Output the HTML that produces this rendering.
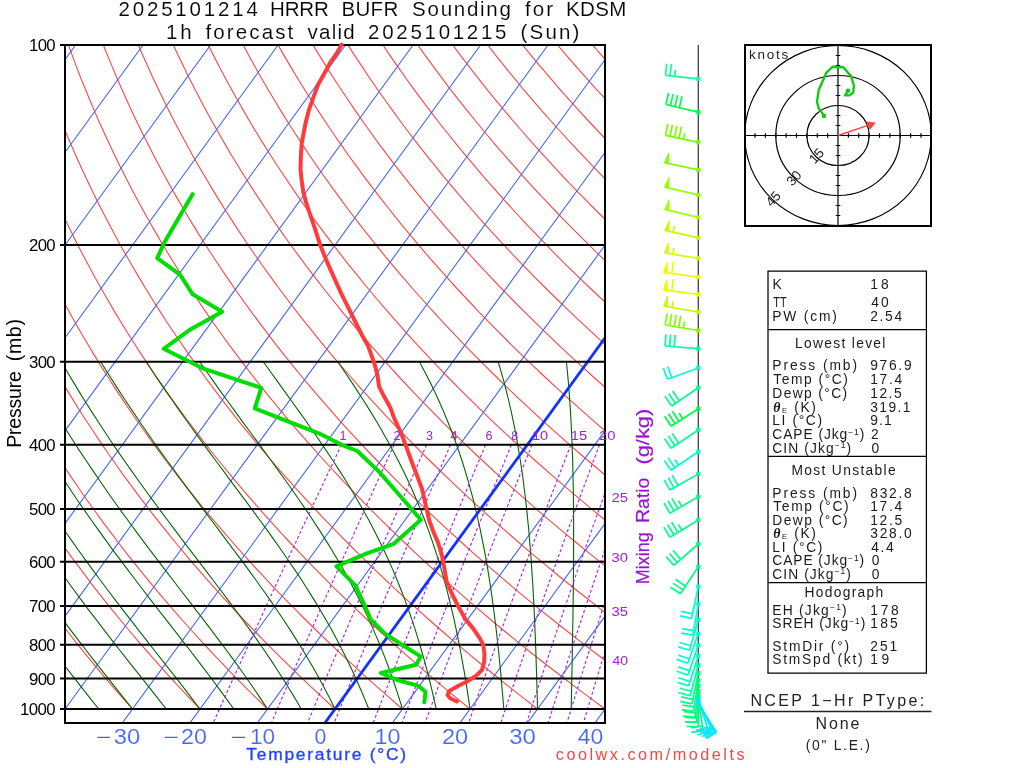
<!DOCTYPE html>
<html><head><meta charset="utf-8"><title>Sounding</title>
<style>html,body{margin:0;padding:0;background:#fff;width:1024px;height:768px;overflow:hidden}
svg text{font-family:"Liberation Sans",sans-serif}</style></head>
<body>
<svg width="1024" height="768" viewBox="0 0 1024 768" style="position:absolute;left:0;top:0;will-change:transform">
<defs><clipPath id="pc"><rect x="65" y="45" width="540" height="678"/></clipPath></defs>
<g clip-path="url(#pc)" fill="none">
<path stroke="#ff4444" stroke-width="1.1" d="M65,709 L55.9,697.9 L46.9,686.9 L38.2,675.8 L29.6,664.7 L21.2,653.7 L13,642.6 L5,631.5 L-2.9,620.5 L-10.6,609.4 L-18.1,598.3 L-25.4,587.3 L-32.6,576.2 L-39.6,565.1 L-46.4,554.1 L-53.1,543 L-59.6,531.9 L-66,520.9 L-72.2,509.8 L-78.2,498.7 L-84.1,487.7 L-89.9,476.6 L-95.5,465.5 L-100.9,454.5 L-106.2,443.4 L-111.3,432.3 L-116.4,421.3 L-121.2,410.2 L-125.9,399.1 L-130.5,388.1 L-135,377 L-139.3,365.9 L-143.4,354.9 L-147.5,343.8 L-151.4,332.7 L-155.2,321.7 L-158.8,310.6 L-162.3,299.5 L-165.7,288.5 L-169,277.4 L-172.1,266.3 L-175.2,255.3 L-178.1,244.2 L-180.8,233.1 L-183.5,222.1 L-186,211 L-188.5,199.9 L-190.8,188.9 L-193,177.8 L-195.1,166.7 L-197.1,155.7 L-198.9,144.6 L-200.7,133.5 L-202.4,122.5 L-203.9,111.4 L-205.4,100.3 L-206.7,89.3 L-207.9,78.2 L-209.1,67.1 L-210.1,56.1 L-211,45 M132.5,709 L122.6,697.9 L113,686.9 L103.5,675.8 L94.2,664.7 L85.1,653.7 L76.2,642.6 L67.5,631.5 L59,620.5 L50.6,609.4 L42.4,598.3 L34.4,587.3 L26.6,576.2 L18.9,565.1 L11.5,554.1 L4.1,543 L-3,531.9 L-10,520.9 L-16.8,509.8 L-23.4,498.7 L-29.9,487.7 L-36.3,476.6 L-42.4,465.5 L-48.5,454.5 L-54.3,443.4 L-60,432.3 L-65.6,421.3 L-71,410.2 L-76.3,399.1 L-81.4,388.1 L-86.4,377 L-91.2,365.9 L-95.9,354.9 L-100.5,343.8 L-104.9,332.7 L-109.2,321.7 L-113.3,310.6 L-117.4,299.5 L-121.2,288.5 L-125,277.4 L-128.6,266.3 L-132.1,255.3 L-135.5,244.2 L-138.7,233.1 L-141.9,222.1 L-144.9,211 L-147.7,199.9 L-150.5,188.9 L-153.1,177.8 L-155.7,166.7 L-158.1,155.7 L-160.4,144.6 L-162.6,133.5 L-164.6,122.5 L-166.6,111.4 L-168.4,100.3 L-170.2,89.3 L-171.8,78.2 L-173.4,67.1 L-174.8,56.1 L-176.1,45 M200,709 L189.4,697.9 L179,686.9 L168.8,675.8 L158.8,664.7 L149,653.7 L139.4,642.6 L130,631.5 L120.8,620.5 L111.7,609.4 L102.9,598.3 L94.2,587.3 L85.8,576.2 L77.5,565.1 L69.3,554.1 L61.4,543 L53.6,531.9 L46,520.9 L38.6,509.8 L31.4,498.7 L24.3,487.7 L17.3,476.6 L10.6,465.5 L4,454.5 L-2.5,443.4 L-8.7,432.3 L-14.9,421.3 L-20.8,410.2 L-26.7,399.1 L-32.3,388.1 L-37.8,377 L-43.2,365.9 L-48.4,354.9 L-53.5,343.8 L-58.4,332.7 L-63.2,321.7 L-67.9,310.6 L-72.4,299.5 L-76.8,288.5 L-81,277.4 L-85.1,266.3 L-89.1,255.3 L-92.9,244.2 L-96.6,233.1 L-100.2,222.1 L-103.7,211 L-107,199.9 L-110.2,188.9 L-113.3,177.8 L-116.2,166.7 L-119.1,155.7 L-121.8,144.6 L-124.4,133.5 L-126.9,122.5 L-129.3,111.4 L-131.5,100.3 L-133.7,89.3 L-135.7,78.2 L-137.6,67.1 L-139.5,56.1 L-141.2,45 M267.5,709 L256.2,697.9 L245,686.9 L234.1,675.8 L223.4,664.7 L212.9,653.7 L202.6,642.6 L192.5,631.5 L182.6,620.5 L172.9,609.4 L163.4,598.3 L154.1,587.3 L144.9,576.2 L136,565.1 L127.2,554.1 L118.7,543 L110.3,531.9 L102,520.9 L94,509.8 L86.1,498.7 L78.5,487.7 L70.9,476.6 L63.6,465.5 L56.4,454.5 L49.4,443.4 L42.6,432.3 L35.9,421.3 L29.4,410.2 L23,399.1 L16.8,388.1 L10.7,377 L4.8,365.9 L-0.9,354.9 L-6.5,343.8 L-12,332.7 L-17.2,321.7 L-22.4,310.6 L-27.4,299.5 L-32.3,288.5 L-37,277.4 L-41.6,266.3 L-46,255.3 L-50.3,244.2 L-54.5,233.1 L-58.6,222.1 L-62.5,211 L-66.3,199.9 L-69.9,188.9 L-73.4,177.8 L-76.8,166.7 L-80.1,155.7 L-83.2,144.6 L-86.3,133.5 L-89.2,122.5 L-92,111.4 L-94.6,100.3 L-97.2,89.3 L-99.6,78.2 L-101.9,67.1 L-104.1,56.1 L-106.2,45 M335,709 L322.9,697.9 L311.1,686.9 L299.4,675.8 L288,664.7 L276.8,653.7 L265.8,642.6 L255,631.5 L244.4,620.5 L234,609.4 L223.9,598.3 L213.9,587.3 L204.1,576.2 L194.5,565.1 L185.1,554.1 L175.9,543 L166.9,531.9 L158.1,520.9 L149.4,509.8 L140.9,498.7 L132.7,487.7 L124.5,476.6 L116.6,465.5 L108.9,454.5 L101.3,443.4 L93.9,432.3 L86.6,421.3 L79.5,410.2 L72.6,399.1 L65.9,388.1 L59.3,377 L52.9,365.9 L46.6,354.9 L40.5,343.8 L34.5,332.7 L28.7,321.7 L23.1,310.6 L17.6,299.5 L12.2,288.5 L7,277.4 L1.9,266.3 L-3,255.3 L-7.8,244.2 L-12.4,233.1 L-16.9,222.1 L-21.3,211 L-25.5,199.9 L-29.6,188.9 L-33.6,177.8 L-37.4,166.7 L-41.1,155.7 L-44.7,144.6 L-48.1,133.5 L-51.4,122.5 L-54.6,111.4 L-57.7,100.3 L-60.7,89.3 L-63.5,78.2 L-66.2,67.1 L-68.8,56.1 L-71.3,45 M402.5,709 L389.7,697.9 L377.1,686.9 L364.7,675.8 L352.6,664.7 L340.7,653.7 L329,642.6 L317.5,631.5 L306.3,620.5 L295.2,609.4 L284.3,598.3 L273.7,587.3 L263.3,576.2 L253,565.1 L243,554.1 L233.2,543 L223.5,531.9 L214.1,520.9 L204.8,509.8 L195.7,498.7 L186.9,487.7 L178.2,476.6 L169.6,465.5 L161.3,454.5 L153.1,443.4 L145.2,432.3 L137.4,421.3 L129.7,410.2 L122.3,399.1 L115,388.1 L107.9,377 L100.9,365.9 L94.1,354.9 L87.5,343.8 L81,332.7 L74.7,321.7 L68.5,310.6 L62.5,299.5 L56.7,288.5 L51,277.4 L45.4,266.3 L40,255.3 L34.8,244.2 L29.7,233.1 L24.7,222.1 L19.9,211 L15.2,199.9 L10.7,188.9 L6.3,177.8 L2,166.7 L-2.1,155.7 L-6.1,144.6 L-10,133.5 L-13.7,122.5 L-17.3,111.4 L-20.8,100.3 L-24.2,89.3 L-27.4,78.2 L-30.5,67.1 L-33.5,56.1 L-36.4,45 M470,709 L456.5,697.9 L443.1,686.9 L430.1,675.8 L417.2,664.7 L404.6,653.7 L392.2,642.6 L380,631.5 L368.1,620.5 L356.3,609.4 L344.8,598.3 L333.5,587.3 L322.4,576.2 L311.6,565.1 L300.9,554.1 L290.4,543 L280.1,531.9 L270.1,520.9 L260.2,509.8 L250.5,498.7 L241,487.7 L231.8,476.6 L222.7,465.5 L213.7,454.5 L205,443.4 L196.5,432.3 L188.1,421.3 L179.9,410.2 L171.9,399.1 L164.1,388.1 L156.4,377 L148.9,365.9 L141.6,354.9 L134.5,343.8 L127.5,332.7 L120.7,321.7 L114,310.6 L107.5,299.5 L101.2,288.5 L95,277.4 L89,266.3 L83.1,255.3 L77.4,244.2 L71.8,233.1 L66.4,222.1 L61.1,211 L56,199.9 L51,188.9 L46.1,177.8 L41.4,166.7 L36.9,155.7 L32.5,144.6 L28.2,133.5 L24,122.5 L20,111.4 L16.1,100.3 L12.3,89.3 L8.7,78.2 L5.2,67.1 L1.8,56.1 L-1.4,45 M537.5,709 L523.2,697.9 L509.2,686.9 L495.4,675.8 L481.8,664.7 L468.5,653.7 L455.4,642.6 L442.5,631.5 L429.9,620.5 L417.5,609.4 L405.3,598.3 L393.4,587.3 L381.6,576.2 L370.1,565.1 L358.8,554.1 L347.7,543 L336.8,531.9 L326.1,520.9 L315.6,509.8 L305.3,498.7 L295.2,487.7 L285.4,476.6 L275.7,465.5 L266.2,454.5 L256.9,443.4 L247.8,432.3 L238.8,421.3 L230.1,410.2 L221.6,399.1 L213.2,388.1 L205,377 L197,365.9 L189.1,354.9 L181.5,343.8 L174,332.7 L166.6,321.7 L159.5,310.6 L152.5,299.5 L145.6,288.5 L139,277.4 L132.5,266.3 L126.1,255.3 L119.9,244.2 L113.9,233.1 L108,222.1 L102.3,211 L96.7,199.9 L91.3,188.9 L86,177.8 L80.9,166.7 L75.9,155.7 L71,144.6 L66.3,133.5 L61.7,122.5 L57.3,111.4 L53,100.3 L48.9,89.3 L44.8,78.2 L40.9,67.1 L37.2,56.1 L33.5,45 M605,709 L590,697.9 L575.2,686.9 L560.7,675.8 L546.4,664.7 L532.4,653.7 L518.6,642.6 L505,631.5 L491.7,620.5 L478.7,609.4 L465.8,598.3 L453.2,587.3 L440.8,576.2 L428.6,565.1 L416.7,554.1 L404.9,543 L393.4,531.9 L382.1,520.9 L371,509.8 L360.1,498.7 L349.4,487.7 L339,476.6 L328.7,465.5 L318.6,454.5 L308.8,443.4 L299.1,432.3 L289.6,421.3 L280.3,410.2 L271.2,399.1 L262.3,388.1 L253.5,377 L245,365.9 L236.6,354.9 L228.4,343.8 L220.4,332.7 L212.6,321.7 L204.9,310.6 L197.4,299.5 L190.1,288.5 L183,277.4 L176,266.3 L169.2,255.3 L162.5,244.2 L156,233.1 L149.7,222.1 L143.5,211 L137.5,199.9 L131.6,188.9 L125.9,177.8 L120.3,166.7 L114.9,155.7 L109.6,144.6 L104.5,133.5 L99.5,122.5 L94.6,111.4 L89.9,100.3 L85.4,89.3 L80.9,78.2 L76.6,67.1 L72.5,56.1 L68.5,45 M672.5,709 L656.7,697.9 L641.2,686.9 L626,675.8 L611,664.7 L596.3,653.7 L581.8,642.6 L567.6,631.5 L553.6,620.5 L539.8,609.4 L526.3,598.3 L513,587.3 L500,576.2 L487.1,565.1 L474.5,554.1 L462.2,543 L450,531.9 L438.1,520.9 L426.4,509.8 L414.9,498.7 L403.6,487.7 L392.6,476.6 L381.7,465.5 L371.1,454.5 L360.6,443.4 L350.4,432.3 L340.3,421.3 L330.5,410.2 L320.8,399.1 L311.4,388.1 L302.1,377 L293,365.9 L284.1,354.9 L275.4,343.8 L266.9,332.7 L258.6,321.7 L250.4,310.6 L242.4,299.5 L234.6,288.5 L227,277.4 L219.5,266.3 L212.2,255.3 L205.1,244.2 L198.1,233.1 L191.3,222.1 L184.7,211 L178.2,199.9 L171.9,188.9 L165.7,177.8 L159.7,166.7 L153.9,155.7 L148.2,144.6 L142.6,133.5 L137.2,122.5 L131.9,111.4 L126.8,100.3 L121.9,89.3 L117,78.2 L112.4,67.1 L107.8,56.1 L103.4,45 M740,709 L723.5,697.9 L707.3,686.9 L691.3,675.8 L675.6,664.7 L660.2,653.7 L645,642.6 L630.1,631.5 L615.4,620.5 L601,609.4 L586.8,598.3 L572.8,587.3 L559.1,576.2 L545.7,565.1 L532.4,554.1 L519.4,543 L506.7,531.9 L494.1,520.9 L481.8,509.8 L469.7,498.7 L457.8,487.7 L446.2,476.6 L434.7,465.5 L423.5,454.5 L412.5,443.4 L401.7,432.3 L391.1,421.3 L380.7,410.2 L370.5,399.1 L360.5,388.1 L350.7,377 L341.1,365.9 L331.6,354.9 L322.4,343.8 L313.4,332.7 L304.5,321.7 L295.9,310.6 L287.4,299.5 L279.1,288.5 L271,277.4 L263,266.3 L255.2,255.3 L247.6,244.2 L240.2,233.1 L233,222.1 L225.9,211 L218.9,199.9 L212.2,188.9 L205.6,177.8 L199.1,166.7 L192.8,155.7 L186.7,144.6 L180.7,133.5 L174.9,122.5 L169.3,111.4 L163.7,100.3 L158.4,89.3 L153.1,78.2 L148.1,67.1 L143.1,56.1 L138.3,45 M807.5,709 L790.3,697.9 L773.3,686.9 L756.6,675.8 L740.2,664.7 L724.1,653.7 L708.2,642.6 L692.6,631.5 L677.2,620.5 L662.1,609.4 L647.3,598.3 L632.6,587.3 L618.3,576.2 L604.2,565.1 L590.3,554.1 L576.7,543 L563.3,531.9 L550.1,520.9 L537.2,509.8 L524.5,498.7 L512,487.7 L499.8,476.6 L487.8,465.5 L475.9,454.5 L464.4,443.4 L453,432.3 L441.8,421.3 L430.9,410.2 L420.1,399.1 L409.6,388.1 L399.2,377 L389.1,365.9 L379.2,354.9 L369.4,343.8 L359.9,332.7 L350.5,321.7 L341.3,310.6 L332.4,299.5 L323.6,288.5 L315,277.4 L306.5,266.3 L298.3,255.3 L290.2,244.2 L282.3,233.1 L274.6,222.1 L267.1,211 L259.7,199.9 L252.5,188.9 L245.4,177.8 L238.6,166.7 L231.8,155.7 L225.3,144.6 L218.9,133.5 L212.7,122.5 L206.6,111.4 L200.6,100.3 L194.9,89.3 L189.3,78.2 L183.8,67.1 L178.5,56.1 L173.3,45 M875,709 L857,697.9 L839.3,686.9 L821.9,675.8 L804.8,664.7 L788,653.7 L771.4,642.6 L755.1,631.5 L739,620.5 L723.3,609.4 L707.7,598.3 L692.5,587.3 L677.5,576.2 L662.7,565.1 L648.2,554.1 L633.9,543 L619.9,531.9 L606.1,520.9 L592.6,509.8 L579.3,498.7 L566.2,487.7 L553.4,476.6 L540.8,465.5 L528.4,454.5 L516.2,443.4 L504.3,432.3 L492.6,421.3 L481,410.2 L469.8,399.1 L458.7,388.1 L447.8,377 L437.1,365.9 L426.7,354.9 L416.4,343.8 L406.3,332.7 L396.5,321.7 L386.8,310.6 L377.3,299.5 L368,288.5 L359,277.4 L350,266.3 L341.3,255.3 L332.8,244.2 L324.4,233.1 L316.2,222.1 L308.2,211 L300.4,199.9 L292.8,188.9 L285.3,177.8 L278,166.7 L270.8,155.7 L263.9,144.6 L257,133.5 L250.4,122.5 L243.9,111.4 L237.6,100.3 L231.4,89.3 L225.4,78.2 L219.5,67.1 L213.8,56.1 L208.2,45 M942.5,709 L923.8,697.9 L905.4,686.9 L887.3,675.8 L869.4,664.7 L851.9,653.7 L834.6,642.6 L817.6,631.5 L800.9,620.5 L784.4,609.4 L768.2,598.3 L752.3,587.3 L736.6,576.2 L721.2,565.1 L706.1,554.1 L691.2,543 L676.5,531.9 L662.1,520.9 L648,509.8 L634.1,498.7 L620.4,487.7 L607,476.6 L593.8,465.5 L580.8,454.5 L568.1,443.4 L555.6,432.3 L543.3,421.3 L531.2,410.2 L519.4,399.1 L507.8,388.1 L496.4,377 L485.2,365.9 L474.2,354.9 L463.4,343.8 L452.8,332.7 L442.4,321.7 L432.3,310.6 L422.3,299.5 L412.5,288.5 L402.9,277.4 L393.6,266.3 L384.4,255.3 L375.4,244.2 L366.5,233.1 L357.9,222.1 L349.4,211 L341.2,199.9 L333.1,188.9 L325.1,177.8 L317.4,166.7 L309.8,155.7 L302.4,144.6 L295.2,133.5 L288.1,122.5 L281.2,111.4 L274.5,100.3 L267.9,89.3 L261.5,78.2 L255.2,67.1 L249.1,56.1 L243.2,45 M1010,709 L990.6,697.9 L971.4,686.9 L952.6,675.8 L934,664.7 L915.8,653.7 L897.8,642.6 L880.1,631.5 L862.7,620.5 L845.6,609.4 L828.7,598.3 L812.1,587.3 L795.8,576.2 L779.8,565.1 L764,554.1 L748.4,543 L733.2,531.9 L718.2,520.9 L703.4,509.8 L688.9,498.7 L674.6,487.7 L660.6,476.6 L646.8,465.5 L633.3,454.5 L620,443.4 L606.9,432.3 L594,421.3 L581.4,410.2 L569,399.1 L556.9,388.1 L544.9,377 L533.2,365.9 L521.7,354.9 L510.4,343.8 L499.3,332.7 L488.4,321.7 L477.7,310.6 L467.3,299.5 L457,288.5 L446.9,277.4 L437.1,266.3 L427.4,255.3 L417.9,244.2 L408.6,233.1 L399.5,222.1 L390.6,211 L381.9,199.9 L373.4,188.9 L365,177.8 L356.8,166.7 L348.8,155.7 L341,144.6 L333.3,133.5 L325.8,122.5 L318.5,111.4 L311.4,100.3 L304.4,89.3 L297.6,78.2 L290.9,67.1 L284.4,56.1 L278.1,45 M1077.5,709 L1057.3,697.9 L1037.5,686.9 L1017.9,675.8 L998.6,664.7 L979.7,653.7 L961,642.6 L942.6,631.5 L924.5,620.5 L906.7,609.4 L889.2,598.3 L871.9,587.3 L855,576.2 L838.3,565.1 L821.9,554.1 L805.7,543 L789.8,531.9 L774.2,520.9 L758.8,509.8 L743.7,498.7 L728.8,487.7 L714.2,476.6 L699.8,465.5 L685.7,454.5 L671.8,443.4 L658.2,432.3 L644.8,421.3 L631.6,410.2 L618.7,399.1 L606,388.1 L593.5,377 L581.2,365.9 L569.2,354.9 L557.4,343.8 L545.8,332.7 L534.4,321.7 L523.2,310.6 L512.2,299.5 L501.5,288.5 L490.9,277.4 L480.6,266.3 L470.4,255.3 L460.5,244.2 L450.7,233.1 L441.2,222.1 L431.8,211 L422.6,199.9 L413.7,188.9 L404.9,177.8 L396.2,166.7 L387.8,155.7 L379.5,144.6 L371.5,133.5 L363.6,122.5 L355.8,111.4 L348.3,100.3 L340.9,89.3 L333.7,78.2 L326.6,67.1 L319.8,56.1 L313,45 M1145,709 L1124.1,697.9 L1103.5,686.9 L1083.2,675.8 L1063.2,664.7 L1043.6,653.7 L1024.2,642.6 L1005.1,631.5 L986.3,620.5 L967.9,609.4 L949.7,598.3 L931.8,587.3 L914.1,576.2 L896.8,565.1 L879.7,554.1 L862.9,543 L846.4,531.9 L830.2,520.9 L814.2,509.8 L798.5,498.7 L783,487.7 L767.8,476.6 L752.9,465.5 L738.2,454.5 L723.7,443.4 L709.5,432.3 L695.5,421.3 L681.8,410.2 L668.3,399.1 L655.1,388.1 L642,377 L629.3,365.9 L616.7,354.9 L604.4,343.8 L592.2,332.7 L580.4,321.7 L568.7,310.6 L557.2,299.5 L546,288.5 L534.9,277.4 L524.1,266.3 L513.5,255.3 L503.1,244.2 L492.8,233.1 L482.8,222.1 L473,211 L463.4,199.9 L454,188.9 L444.7,177.8 L435.7,166.7 L426.8,155.7 L418.1,144.6 L409.6,133.5 L401.3,122.5 L393.2,111.4 L385.2,100.3 L377.4,89.3 L369.8,78.2 L362.4,67.1 L355.1,56.1 L348,45 M1212.5,709 L1190.8,697.9 L1169.5,686.9 L1148.5,675.8 L1127.8,664.7 L1107.4,653.7 L1087.4,642.6 L1067.6,631.5 L1048.2,620.5 L1029,609.4 L1010.2,598.3 L991.6,587.3 L973.3,576.2 L955.3,565.1 L937.6,554.1 L920.2,543 L903.1,531.9 L886.2,520.9 L869.6,509.8 L853.3,498.7 L837.2,487.7 L821.4,476.6 L805.9,465.5 L790.6,454.5 L775.6,443.4 L760.8,432.3 L746.3,421.3 L732,410.2 L718,399.1 L704.2,388.1 L690.6,377 L677.3,365.9 L664.2,354.9 L651.4,343.8 L638.7,332.7 L626.3,321.7 L614.1,310.6 L602.2,299.5 L590.5,288.5 L578.9,277.4 L567.6,266.3 L556.5,255.3 L545.6,244.2 L535,233.1 L524.5,222.1 L514.2,211 L504.1,199.9 L494.3,188.9 L484.6,177.8 L475.1,166.7 L465.8,155.7 L456.7,144.6 L447.8,133.5 L439,122.5 L430.5,111.4 L422.1,100.3 L413.9,89.3 L405.9,78.2 L398.1,67.1 L390.4,56.1 L382.9,45 M1280,709 L1257.6,697.9 L1235.6,686.9 L1213.8,675.8 L1192.4,664.7 L1171.3,653.7 L1150.6,642.6 L1130.1,631.5 L1110,620.5 L1090.2,609.4 L1070.6,598.3 L1051.4,587.3 L1032.5,576.2 L1013.9,565.1 L995.5,554.1 L977.5,543 L959.7,531.9 L942.2,520.9 L925,509.8 L908.1,498.7 L891.4,487.7 L875,476.6 L858.9,465.5 L843,454.5 L827.4,443.4 L812.1,432.3 L797,421.3 L782.2,410.2 L767.6,399.1 L753.3,388.1 L739.2,377 L725.3,365.9 L711.7,354.9 L698.3,343.8 L685.2,332.7 L672.3,321.7 L659.6,310.6 L647.2,299.5 L634.9,288.5 L622.9,277.4 L611.1,266.3 L599.6,255.3 L588.2,244.2 L577.1,233.1 L566.1,222.1 L555.4,211 L544.9,199.9 L534.5,188.9 L524.4,177.8 L514.5,166.7 L504.8,155.7 L495.2,144.6 L485.9,133.5 L476.8,122.5 L467.8,111.4 L459,100.3 L450.4,89.3 L442,78.2 L433.8,67.1 L425.7,56.1 L417.8,45 M1347.5,709 L1324.4,697.9 L1301.6,686.9 L1279.1,675.8 L1257,664.7 L1235.2,653.7 L1213.8,642.6 L1192.6,631.5 L1171.8,620.5 L1151.3,609.4 L1131.1,598.3 L1111.2,587.3 L1091.7,576.2 L1072.4,565.1 L1053.4,554.1 L1034.7,543 L1016.3,531.9 L998.2,520.9 L980.4,509.8 L962.9,498.7 L945.6,487.7 L928.6,476.6 L911.9,465.5 L895.5,454.5 L879.3,443.4 L863.4,432.3 L847.8,421.3 L832.4,410.2 L817.2,399.1 L802.4,388.1 L787.7,377 L773.4,365.9 L759.2,354.9 L745.3,343.8 L731.7,332.7 L718.3,321.7 L705.1,310.6 L692.1,299.5 L679.4,288.5 L666.9,277.4 L654.7,266.3 L642.6,255.3 L630.8,244.2 L619.2,233.1 L607.8,222.1 L596.6,211 L585.6,199.9 L574.8,188.9 L564.3,177.8 L553.9,166.7 L543.8,155.7 L533.8,144.6 L524.1,133.5 L514.5,122.5 L505.1,111.4 L495.9,100.3 L486.9,89.3 L478.1,78.2 L469.5,67.1 L461,56.1 L452.8,45 M1415,709 L1391.1,697.9 L1367.6,686.9 L1344.5,675.8 L1321.6,664.7 L1299.1,653.7 L1277,642.6 L1255.1,631.5 L1233.6,620.5 L1212.5,609.4 L1191.6,598.3 L1171.1,587.3 L1150.8,576.2 L1130.9,565.1 L1111.3,554.1 L1092,543 L1072.9,531.9 L1054.2,520.9 L1035.8,509.8 L1017.7,498.7 L999.8,487.7 L982.2,476.6 L964.9,465.5 L947.9,454.5 L931.2,443.4 L914.7,432.3 L898.5,421.3 L882.6,410.2 L866.9,399.1 L851.5,388.1 L836.3,377 L821.4,365.9 L806.7,354.9 L792.3,343.8 L778.2,332.7 L764.2,321.7 L750.6,310.6 L737.1,299.5 L723.9,288.5 L710.9,277.4 L698.2,266.3 L685.6,255.3 L673.3,244.2 L661.3,233.1 L649.4,222.1 L637.8,211 L626.4,199.9 L615.1,188.9 L604.1,177.8 L593.3,166.7 L582.8,155.7 L572.4,144.6 L562.2,133.5 L552.2,122.5 L542.4,111.4 L532.8,100.3 L523.4,89.3 L514.2,78.2 L505.2,67.1 L496.4,56.1 L487.7,45 M1482.5,709 L1457.9,697.9 L1433.7,686.9 L1409.8,675.8 L1386.2,664.7 L1363,653.7 L1340.2,642.6 L1317.7,631.5 L1295.5,620.5 L1273.6,609.4 L1252.1,598.3 L1230.9,587.3 L1210,576.2 L1189.4,565.1 L1169.2,554.1 L1149.2,543 L1129.6,531.9 L1110.2,520.9 L1091.2,509.8 L1072.4,498.7 L1054,487.7 L1035.8,476.6 L1018,465.5 L1000.4,454.5 L983,443.4 L966,432.3 L949.2,421.3 L932.7,410.2 L916.5,399.1 L900.6,388.1 L884.9,377 L869.4,365.9 L854.2,354.9 L839.3,343.8 L824.6,332.7 L810.2,321.7 L796,310.6 L782.1,299.5 L768.4,288.5 L754.9,277.4 L741.7,266.3 L728.7,255.3 L715.9,244.2 L703.4,233.1 L691.1,222.1 L679,211 L667.1,199.9 L655.4,188.9 L644,177.8 L632.8,166.7 L621.8,155.7 L610.9,144.6 L600.3,133.5 L589.9,122.5 L579.7,111.4 L569.7,100.3 L559.9,89.3 L550.3,78.2 L540.9,67.1 L531.7,56.1 L522.7,45 M1550,709 L1524.7,697.9 L1499.7,686.9 L1475.1,675.8 L1450.8,664.7 L1426.9,653.7 L1403.4,642.6 L1380.2,631.5 L1357.3,620.5 L1334.8,609.4 L1312.6,598.3 L1290.7,587.3 L1269.2,576.2 L1247.9,565.1 L1227.1,554.1 L1206.5,543 L1186.2,531.9 L1166.2,520.9 L1146.6,509.8 L1127.2,498.7 L1108.2,487.7 L1089.4,476.6 L1071,465.5 L1052.8,454.5 L1034.9,443.4 L1017.3,432.3 L1000,421.3 L982.9,410.2 L966.2,399.1 L949.7,388.1 L933.4,377 L917.5,365.9 L901.7,354.9 L886.3,343.8 L871.1,332.7 L856.2,321.7 L841.5,310.6 L827,299.5 L812.9,288.5 L798.9,277.4 L785.2,266.3 L771.7,255.3 L758.5,244.2 L745.5,233.1 L732.7,222.1 L720.2,211 L707.8,199.9 L695.7,188.9 L683.9,177.8 L672.2,166.7 L660.7,155.7 L649.5,144.6 L638.5,133.5 L627.7,122.5 L617.1,111.4 L606.7,100.3 L596.4,89.3 L586.4,78.2 L576.6,67.1 L567,56.1 L557.6,45 M1617.5,709 L1591.4,697.9 L1565.7,686.9 L1540.4,675.8 L1515.4,664.7 L1490.8,653.7 L1466.6,642.6 L1442.7,631.5 L1419.1,620.5 L1395.9,609.4 L1373.1,598.3 L1350.5,587.3 L1328.3,576.2 L1306.5,565.1 L1284.9,554.1 L1263.7,543 L1242.8,531.9 L1222.3,520.9 L1202,509.8 L1182,498.7 L1162.4,487.7 L1143,476.6 L1124,465.5 L1105.2,454.5 L1086.8,443.4 L1068.6,432.3 L1050.7,421.3 L1033.1,410.2 L1015.8,399.1 L998.8,388.1 L982,377 L965.5,365.9 L949.3,354.9 L933.3,343.8 L917.6,332.7 L902.1,321.7 L887,310.6 L872,299.5 L857.3,288.5 L842.9,277.4 L828.7,266.3 L814.8,255.3 L801.1,244.2 L787.6,233.1 L774.4,222.1 L761.3,211 L748.6,199.9 L736,188.9 L723.7,177.8 L711.6,166.7 L699.7,155.7 L688.1,144.6 L676.6,133.5 L665.4,122.5 L654.4,111.4 L643.6,100.3 L633,89.3 L622.6,78.2 L612.3,67.1 L602.3,56.1 L592.5,45 M1685,709 L1658.2,697.9 L1631.8,686.9 L1605.7,675.8 L1580,664.7 L1554.7,653.7 L1529.8,642.6 L1505.2,631.5 L1480.9,620.5 L1457.1,609.4 L1433.5,598.3 L1410.4,587.3 L1387.5,576.2 L1365,565.1 L1342.8,554.1 L1321,543 L1299.5,531.9 L1278.3,520.9 L1257.4,509.8 L1236.8,498.7 L1216.6,487.7 L1196.6,476.6 L1177,465.5 L1157.7,454.5 L1138.6,443.4 L1119.9,432.3 L1101.5,421.3 L1083.3,410.2 L1065.4,399.1 L1047.9,388.1 L1030.5,377 L1013.5,365.9 L996.8,354.9 L980.3,343.8 L964.1,332.7 L948.1,321.7 L932.4,310.6 L917,299.5 L901.8,288.5 L886.9,277.4 L872.2,266.3 L857.8,255.3 L843.6,244.2 L829.7,233.1 L816,222.1 L802.5,211 L789.3,199.9 L776.3,188.9 L763.6,177.8 L751,166.7 L738.7,155.7 L726.6,144.6 L714.8,133.5 L703.1,122.5 L691.7,111.4 L680.5,100.3 L669.5,89.3 L658.7,78.2 L648.1,67.1 L637.7,56.1 L627.5,45 M1752.5,709 L1725,697.9 L1697.8,686.9 L1671,675.8 L1644.6,664.7 L1618.6,653.7 L1593,642.6 L1567.7,631.5 L1542.8,620.5 L1518.2,609.4 L1494,598.3 L1470.2,587.3 L1446.7,576.2 L1423.5,565.1 L1400.7,554.1 L1378.2,543 L1356.1,531.9 L1334.3,520.9 L1312.8,509.8 L1291.6,498.7 L1270.8,487.7 L1250.2,476.6 L1230,465.5 L1210.1,454.5 L1190.5,443.4 L1171.2,432.3 L1152.2,421.3 L1133.5,410.2 L1115.1,399.1 L1097,388.1 L1079.1,377 L1061.6,365.9 L1044.3,354.9 L1027.3,343.8 L1010.5,332.7 L994.1,321.7 L977.9,310.6 L962,299.5 L946.3,288.5 L930.9,277.4 L915.7,266.3 L900.8,255.3 L886.2,244.2 L871.8,233.1 L857.6,222.1 L843.7,211 L830.1,199.9 L816.6,188.9 L803.4,177.8 L790.5,166.7 L777.7,155.7 L765.2,144.6 L752.9,133.5 L740.9,122.5 L729,111.4 L717.4,100.3 L706,89.3 L694.8,78.2 L683.8,67.1 L673,56.1 L662.4,45 M1820,709 L1791.7,697.9 L1763.8,686.9 L1736.3,675.8 L1709.2,664.7 L1682.5,653.7 L1656.2,642.6 L1630.2,631.5 L1604.6,620.5 L1579.4,609.4 L1554.5,598.3 L1530,587.3 L1505.8,576.2 L1482,565.1 L1458.6,554.1 L1435.5,543 L1412.7,531.9 L1390.3,520.9 L1368.2,509.8 L1346.4,498.7 L1325,487.7 L1303.9,476.6 L1283,465.5 L1262.6,454.5 L1242.4,443.4 L1222.5,432.3 L1203,421.3 L1183.7,410.2 L1164.7,399.1 L1146.1,388.1 L1127.7,377 L1109.6,365.9 L1091.8,354.9 L1074.3,343.8 L1057,332.7 L1040.1,321.7 L1023.4,310.6 L1006.9,299.5 L990.8,288.5 L974.9,277.4 L959.3,266.3 L943.9,255.3 L928.8,244.2 L913.9,233.1 L899.3,222.1 L884.9,211 L870.8,199.9 L856.9,188.9 L843.3,177.8 L829.9,166.7 L816.7,155.7 L803.8,144.6 L791.1,133.5 L778.6,122.5 L766.3,111.4 L754.3,100.3 L742.5,89.3 L730.9,78.2 L719.5,67.1 L708.3,56.1 L697.4,45"/>
<path stroke="#4466ff" stroke-width="1.1" d="M-552.7,723.1L-59.4,45 M-485.2,723.1L8.1,45 M-417.7,723.1L75.6,45 M-350.2,723.1L143.1,45 M-282.7,723.1L210.6,45 M-215.2,723.1L278.1,45 M-147.7,723.1L345.6,45 M-80.2,723.1L413.1,45 M-12.7,723.1L480.6,45 M54.8,723.1L548.1,45 M122.3,723.1L615.6,45 M189.8,723.1L683.1,45 M257.3,723.1L750.6,45 M392.3,723.1L885.6,45 M459.8,723.1L953.1,45 M527.3,723.1L1020.6,45 M594.8,723.1L1088.1,45 M662.3,723.1L1155.6,45"/>
<path stroke="#006600" stroke-width="1.1" d="M65,709 L57.2,699.1 L49.5,689.2 L41.9,679.2 L34.4,669.3 L27,659.4 L19.7,649.5 L12.5,639.6 L5.4,629.6 L-1.5,619.7 L-8.3,609.8 L-15,599.9 L-21.6,590 L-28,580 L-34.3,570.1 L-40.5,560.2 L-46.5,550.3 L-52.5,540.4 L-58.3,530.4 L-63.9,520.5 L-69.5,510.6 L-74.9,500.7 L-80.2,490.8 L-85.4,480.8 L-90.5,470.9 L-95.4,461 L-100.3,451.1 L-105,441.2 L-109.6,431.2 L-114,421.3 L-118.4,411.4 L-122.7,401.5 L-126.8,391.6 L-130.8,381.6 L-134.7,371.7 L-138.5,361.8 M98.8,709 L90.8,699.1 L83,689.2 L75.2,679.2 L67.5,669.3 L59.9,659.4 L52.4,649.5 L44.9,639.6 L37.6,629.6 L30.4,619.7 L23.4,609.8 L16.4,599.9 L9.6,590 L2.8,580 L-3.7,570.1 L-10.2,560.2 L-16.5,550.3 L-22.8,540.4 L-28.8,530.4 L-34.8,520.5 L-40.6,510.6 L-46.3,500.7 L-51.9,490.8 L-57.4,480.8 L-62.7,470.9 L-67.9,461 L-73,451.1 L-78,441.2 L-82.9,431.2 L-87.6,421.3 L-92.2,411.4 L-96.7,401.5 L-101.1,391.6 L-105.4,381.6 L-109.6,371.7 L-113.6,361.8 M132.5,709 L124.6,699.1 L116.7,689.2 L108.8,679.2 L101,669.3 L93.2,659.4 L85.5,649.5 L77.9,639.6 L70.3,629.6 L62.9,619.7 L55.6,609.8 L48.4,599.9 L41.3,590 L34.3,580 L27.4,570.1 L20.7,560.2 L14.1,550.3 L7.6,540.4 L1.2,530.4 L-5,520.5 L-11.1,510.6 L-17.1,500.7 L-23,490.8 L-28.7,480.8 L-34.3,470.9 L-39.8,461 L-45.2,451.1 L-50.4,441.2 L-55.6,431.2 L-60.6,421.3 L-65.4,411.4 L-70.2,401.5 L-74.9,391.6 L-79.4,381.6 L-83.8,371.7 L-88.1,361.8 M166.2,709 L158.4,699.1 L150.6,689.2 L142.7,679.2 L134.9,669.3 L127,659.4 L119.2,649.5 L111.5,639.6 L103.8,629.6 L96.2,619.7 L88.6,609.8 L81.2,599.9 L73.9,590 L66.6,580 L59.5,570.1 L52.5,560.2 L45.6,550.3 L38.9,540.4 L32.2,530.4 L25.7,520.5 L19.3,510.6 L13,500.7 L6.9,490.8 L0.9,480.8 L-5,470.9 L-10.8,461 L-16.5,451.1 L-22,441.2 L-27.4,431.2 L-32.6,421.3 L-37.8,411.4 L-42.8,401.5 L-47.8,391.6 L-52.6,381.6 L-57.2,371.7 L-61.8,361.8 M200,709 L192.4,699.1 L184.8,689.2 L177.1,679.2 L169.3,669.3 L161.5,659.4 L153.7,649.5 L146,639.6 L138.2,629.6 L130.5,619.7 L122.8,609.8 L115.2,599.9 L107.7,590 L100.2,580 L92.9,570.1 L85.6,560.2 L78.5,550.3 L71.5,540.4 L64.5,530.4 L57.7,520.5 L51.1,510.6 L44.5,500.7 L38.1,490.8 L31.8,480.8 L25.6,470.9 L19.5,461 L13.6,451.1 L7.8,441.2 L2.1,431.2 L-3.5,421.3 L-8.9,411.4 L-14.2,401.5 L-19.4,391.6 L-24.5,381.6 L-29.5,371.7 L-34.3,361.8 M233.8,709 L226.6,699.1 L219.3,689.2 L212,679.2 L204.5,669.3 L196.9,659.4 L189.3,649.5 L181.6,639.6 L173.9,629.6 L166.1,619.7 L158.4,609.8 L150.7,599.9 L143.1,590 L135.5,580 L128,570.1 L120.5,560.2 L113.1,550.3 L105.9,540.4 L98.7,530.4 L91.6,520.5 L84.7,510.6 L77.8,500.7 L71.1,490.8 L64.5,480.8 L58,470.9 L51.7,461 L45.4,451.1 L39.3,441.2 L33.4,431.2 L27.5,421.3 L21.8,411.4 L16.1,401.5 L10.7,391.6 L5.3,381.6 L0.1,371.7 L-5.1,361.8 M267.5,709 L261,699.1 L254.3,689.2 L247.4,679.2 L240.3,669.3 L233.2,659.4 L225.9,649.5 L218.5,639.6 L211,629.6 L203.4,619.7 L195.8,609.8 L188.2,599.9 L180.5,590 L172.9,580 L165.3,570.1 L157.7,560.2 L150.2,550.3 L142.7,540.4 L135.3,530.4 L128,520.5 L120.8,510.6 L113.7,500.7 L106.7,490.8 L99.8,480.8 L93.1,470.9 L86.4,461 L79.8,451.1 L73.4,441.2 L67.1,431.2 L61,421.3 L54.9,411.4 L49,401.5 L43.2,391.6 L37.5,381.6 L32,371.7 L26.5,361.8 M301.2,709 L295.5,699.1 L289.5,689.2 L283.3,679.2 L276.9,669.3 L270.4,659.4 L263.7,649.5 L256.8,639.6 L249.7,629.6 L242.6,619.7 L235.3,609.8 L227.9,599.9 L220.5,590 L213,580 L205.4,570.1 L197.8,560.2 L190.3,550.3 L182.7,540.4 L175.2,530.4 L167.8,520.5 L160.4,510.6 L153,500.7 L145.8,490.8 L138.6,480.8 L131.5,470.9 L124.6,461 L117.7,451.1 L111,441.2 L104.4,431.2 L97.9,421.3 L91.5,411.4 L85.2,401.5 L79.1,391.6 L73.1,381.6 L67.2,371.7 L61.4,361.8 M335,709 L330.1,699.1 L325,689.2 L319.7,679.2 L314.1,669.3 L308.4,659.4 L302.5,649.5 L296.3,639.6 L290,629.6 L283.5,619.7 L276.8,609.8 L270,599.9 L263,590 L255.9,580 L248.7,570.1 L241.4,560.2 L234,550.3 L226.5,540.4 L219.1,530.4 L211.6,520.5 L204.1,510.6 L196.7,500.7 L189.3,490.8 L181.9,480.8 L174.6,470.9 L167.4,461 L160.2,451.1 L153.2,441.2 L146.3,431.2 L139.4,421.3 L132.7,411.4 L126.1,401.5 L119.6,391.6 L113.2,381.6 L106.9,371.7 L100.8,361.8 M368.8,709 L364.8,699.1 L360.6,689.2 L356.2,679.2 L351.7,669.3 L346.9,659.4 L342,649.5 L336.8,639.6 L331.5,629.6 L325.9,619.7 L320.1,609.8 L314.1,599.9 L307.9,590 L301.6,580 L295,570.1 L288.3,560.2 L281.4,550.3 L274.4,540.4 L267.3,530.4 L260.1,520.5 L252.8,510.6 L245.5,500.7 L238.1,490.8 L230.7,480.8 L223.4,470.9 L216,461 L208.7,451.1 L201.4,441.2 L194.2,431.2 L187.1,421.3 L180,411.4 L173.1,401.5 L166.2,391.6 L159.4,381.6 L152.8,371.7 L146.3,361.8 M402.5,709 L399.4,699.1 L396.2,689.2 L392.8,679.2 L389.3,669.3 L385.6,659.4 L381.7,649.5 L377.7,639.6 L373.4,629.6 L369,619.7 L364.3,609.8 L359.5,599.9 L354.4,590 L349.1,580 L343.6,570.1 L337.9,560.2 L332,550.3 L325.9,540.4 L319.6,530.4 L313.1,520.5 L306.5,510.6 L299.7,500.7 L292.8,490.8 L285.7,480.8 L278.6,470.9 L271.4,461 L264.2,451.1 L256.9,441.2 L249.6,431.2 L242.3,421.3 L235.1,411.4 L227.9,401.5 L220.7,391.6 L213.7,381.6 L206.7,371.7 L199.8,361.8 M436.2,709 L434,699.1 L431.7,689.2 L429.3,679.2 L426.7,669.3 L424.1,659.4 L421.2,649.5 L418.3,639.6 L415.2,629.6 L411.9,619.7 L408.5,609.8 L404.9,599.9 L401.1,590 L397.1,580 L393,570.1 L388.6,560.2 L384,550.3 L379.2,540.4 L374.2,530.4 L369,520.5 L363.5,510.6 L357.8,500.7 L352,490.8 L345.9,480.8 L339.6,470.9 L333.2,461 L326.6,451.1 L319.9,441.2 L313,431.2 L306.1,421.3 L299,411.4 L291.9,401.5 L284.8,391.6 L277.6,381.6 L270.5,371.7 L263.3,361.8 M470,709 L468.6,699.1 L467,689.2 L465.5,679.2 L463.8,669.3 L462,659.4 L460.2,649.5 L458.3,639.6 L456.2,629.6 L454.1,619.7 L451.8,609.8 L449.4,599.9 L446.9,590 L444.2,580 L441.4,570.1 L438.5,560.2 L435.3,550.3 L432,540.4 L428.5,530.4 L424.9,520.5 L421,510.6 L416.9,500.7 L412.6,490.8 L408.1,480.8 L403.4,470.9 L398.4,461 L393.2,451.1 L387.8,441.2 L382.2,431.2 L376.4,421.3 L370.4,411.4 L364.2,401.5 L357.8,391.6 L351.3,381.6 L344.6,371.7 L337.8,361.8 M503.8,709 L503,699.1 L502.1,689.2 L501.3,679.2 L500.4,669.3 L499.4,659.4 L498.4,649.5 L497.3,639.6 L496.2,629.6 L495,619.7 L493.7,609.8 L492.4,599.9 L491,590 L489.5,580 L487.9,570.1 L486.2,560.2 L484.4,550.3 L482.4,540.4 L480.4,530.4 L478.2,520.5 L475.9,510.6 L473.5,500.7 L470.9,490.8 L468.1,480.8 L465.2,470.9 L462.1,461 L458.8,451.1 L455.3,441.2 L451.6,431.2 L447.6,421.3 L443.5,411.4 L439.2,401.5 L434.6,391.6 L429.8,381.6 L424.7,371.7 L419.4,361.8 M537.5,709 L537.3,699.1 L537,689.2 L536.7,679.2 L536.4,669.3 L536.1,659.4 L535.8,649.5 L535.4,639.6 L535,629.6 L534.6,619.7 L534.1,609.8 L533.6,599.9 L533.1,590 L532.5,580 L531.8,570.1 L531.2,560.2 L530.4,550.3 L529.6,540.4 L528.8,530.4 L527.8,520.5 L526.8,510.6 L525.7,500.7 L524.5,490.8 L523.3,480.8 L521.9,470.9 L520.4,461 L518.8,451.1 L517.1,441.2 L515.3,431.2 L513.3,421.3 L511.2,411.4 L508.9,401.5 L506.5,391.6 L503.9,381.6 L501.1,371.7 L498.2,361.8 M571.2,709 L571.4,699.1 L571.6,689.2 L571.8,679.2 L572,669.3 L572.2,659.4 L572.4,649.5 L572.5,639.6 L572.7,629.6 L572.9,619.7 L573,609.8 L573.2,599.9 L573.3,590 L573.4,580 L573.5,570.1 L573.6,560.2 L573.6,550.3 L573.6,540.4 L573.6,530.4 L573.6,520.5 L573.5,510.6 L573.5,500.7 L573.3,490.8 L573.1,480.8 L572.9,470.9 L572.7,461 L572.3,451.1 L572,441.2 L571.5,431.2 L571,421.3 L570.5,411.4 L569.8,401.5 L569.1,391.6 L568.3,381.6 L567.4,371.7 L566.4,361.8 M605,709 L605.5,699.1 L606,689.2 L606.6,679.2 L607.1,669.3 L607.7,659.4 L608.3,649.5 L608.8,639.6 L609.4,629.6 L610,619.7 L610.6,609.8 L611.2,599.9 L611.9,590 L612.5,580 L613.1,570.1 L613.7,560.2 L614.3,550.3 L614.9,540.4 L615.6,530.4 L616.2,520.5 L616.8,510.6 L617.4,500.7 L617.9,490.8 L618.5,480.8 L619.1,470.9 L619.6,461 L620.2,451.1 L620.7,441.2 L621.2,431.2 L621.7,421.3 L622.1,411.4 L622.5,401.5 L622.9,391.6 L623.3,381.6 L623.6,371.7 L623.9,361.8"/>
<path stroke="#a52ce6" stroke-width="1.2" stroke-dasharray="3 2.3" d="M341.5,444.8 L334.9,458.7 L328.3,472.6 L321.8,486.5 L315.2,500.4 L308.7,514.3 L302.2,528.3 L295.8,542.2 L289.3,556.1 L282.8,570 L276.4,583.9 L270,597.8 L263.6,611.7 L257.3,625.7 L250.9,639.6 L244.6,653.5 L238.3,667.4 L232,681.3 L225.7,695.2 L219.4,709.2 L213.2,723.1 M394,444.8 L387.7,458.7 L381.4,472.6 L375.1,486.5 L368.8,500.4 L362.6,514.3 L356.4,528.3 L350.2,542.2 L344,556.1 L337.8,570 L331.7,583.9 L325.5,597.8 L319.4,611.7 L313.3,625.7 L307.3,639.6 L301.2,653.5 L295.2,667.4 L289.2,681.3 L283.2,695.2 L277.3,709.2 L271.4,723.1 M426.6,444.8 L420.4,458.7 L414.3,472.6 L408.1,486.5 L402.1,500.4 L396,514.3 L389.9,528.3 L383.9,542.2 L377.9,556.1 L371.9,570 L365.9,583.9 L360,597.8 L354,611.7 L348.1,625.7 L342.3,639.6 L336.4,653.5 L330.6,667.4 L324.8,681.3 L319,695.2 L313.2,709.2 L307.5,723.1 M450.5,444.8 L444.5,458.7 L438.5,472.6 L432.5,486.5 L426.5,500.4 L420.6,514.3 L414.6,528.3 L408.7,542.2 L402.8,556.1 L397,570 L391.1,583.9 L385.3,597.8 L379.5,611.7 L373.8,625.7 L368,639.6 L362.3,653.5 L356.6,667.4 L351,681.3 L345.3,695.2 L339.7,709.2 L334.1,723.1 M485.6,444.8 L479.7,458.7 L473.9,472.6 L468.1,486.5 L462.3,500.4 L456.5,514.3 L450.8,528.3 L445.1,542.2 L439.4,556.1 L433.7,570 L428.1,583.9 L422.5,597.8 L416.9,611.7 L411.3,625.7 L405.8,639.6 L400.3,653.5 L394.8,667.4 L389.4,681.3 L383.9,695.2 L378.5,709.2 L373.1,723.1 M511.4,444.8 L505.7,458.7 L500,472.6 L494.3,486.5 L488.7,500.4 L483.1,514.3 L477.5,528.3 L471.9,542.2 L466.4,556.1 L460.9,570 L455.4,583.9 L449.9,597.8 L444.5,611.7 L439.1,625.7 L433.7,639.6 L428.3,653.5 L423,667.4 L417.7,681.3 L412.4,695.2 L407.2,709.2 L402,723.1 M532,444.8 L526.4,458.7 L520.8,472.6 L515.3,486.5 L509.8,500.4 L504.3,514.3 L498.8,528.3 L493.3,542.2 L487.9,556.1 L482.5,570 L477.2,583.9 L471.8,597.8 L466.5,611.7 L461.2,625.7 L456,639.6 L450.7,653.5 L445.5,667.4 L440.4,681.3 L435.2,695.2 L430.1,709.2 L425,723.1 M570.8,444.8 L565.4,458.7 L560.1,472.6 L554.8,486.5 L549.5,500.4 L544.2,514.3 L538.9,528.3 L533.7,542.2 L528.5,556.1 L523.4,570 L518.2,583.9 L513.1,597.8 L508.1,611.7 L503,625.7 L498,639.6 L493,653.5 L488.1,667.4 L483.1,681.3 L478.2,695.2 L473.4,709.2 L468.5,723.1 M599.5,444.8 L594.3,458.7 L589.1,472.6 L583.9,486.5 L578.8,500.4 L573.7,514.3 L568.6,528.3 L563.6,542.2 L558.6,556.1 L553.6,570 L548.6,583.9 L543.7,597.8 L538.8,611.7 L533.9,625.7 L529.1,639.6 L524.3,653.5 L519.5,667.4 L514.8,681.3 L510.1,695.2 L505.4,709.2 L500.8,723.1 M622.4,444.8 L617.3,458.7 L612.3,472.6 L607.3,486.5 L602.3,500.4 L597.3,514.3 L592.4,528.3 L587.4,542.2 L582.6,556.1 L577.7,570 L572.9,583.9 L568.1,597.8 L563.4,611.7 L558.7,625.7 L554,639.6 L549.3,653.5 L544.7,667.4 L540.1,681.3 L535.6,695.2 L531,709.2 L526.6,723.1 M641.6,444.8 L636.6,458.7 L631.7,472.6 L626.8,486.5 L621.9,500.4 L617,514.3 L612.2,528.3 L607.4,542.2 L602.7,556.1 L598,570 L593.3,583.9 L588.6,597.8 L584,611.7 L579.4,625.7 L574.8,639.6 L570.3,653.5 L565.8,667.4 L561.3,681.3 L556.9,695.2 L552.5,709.2 L548.2,723.1 M658.2,444.8 L653.3,458.7 L648.5,472.6 L643.6,486.5 L638.9,500.4 L634.1,514.3 L629.4,528.3 L624.7,542.2 L620,556.1 L615.4,570 L610.8,583.9 L606.3,597.8 L601.8,611.7 L597.3,625.7 L592.8,639.6 L588.4,653.5 L584,667.4 L579.7,681.3 L575.4,695.2 L571.1,709.2 L566.9,723.1 M672.8,444.8 L668,458.7 L663.2,472.6 L658.5,486.5 L653.8,500.4 L649.1,514.3 L644.5,528.3 L639.9,542.2 L635.4,556.1 L630.8,570 L626.3,583.9 L621.9,597.8 L617.5,611.7 L613.1,625.7 L608.7,639.6 L604.4,653.5 L600.1,667.4 L595.9,681.3 L591.7,695.2 L587.5,709.2 L583.4,723.1"/>
<path stroke="#1133ff" stroke-width="2.8" d="M324.8,723.1L818.1,45"/>
</g>
<path stroke="#000" stroke-width="2" fill="none" d="M60,244.9H605 M60,361.8H605 M60,444.8H605 M60,509.1H605 M60,561.7H605 M60,606.1H605 M60,644.7H605 M60,678.6H605 M60,709H605 M60,45H65"/>
<rect x="65" y="45" width="540" height="678" fill="none" stroke="#000" stroke-width="2"/>
<polyline fill="none" stroke="#ff3b3b" stroke-width="4" stroke-linejoin="round" stroke-linecap="round" points="341.6,44.7 336.9,52.9 329.8,63.4 323.4,75.2 318.1,84.5 312.9,98.6 308.8,110.3 305.8,122 303.4,134.1 301.7,143.4 300.9,155.2 300.5,169.2 301.7,180.9 303.4,192.7 306,202 309.4,212.5 314.8,228.1 320.3,245.3 326.6,260.9 333.6,276.6 341.4,293.8 348.4,307.8 355.6,322.5 361.9,335 368.1,345.9 372,356.9 375.2,366.3 377.5,375.6 379.1,386.6 383,394.4 390,406.9 394.7,419.4 400.9,432.5 405.6,445 411.9,462.2 417.3,476.3 422,488.8 425.9,505.9 429.1,520 433,530.9 438,542.5 441.9,555 444.2,567.5 446.6,581.6 451.3,592.5 457.5,605 465.3,619.1 473.1,628.4 479.7,638.2 483.3,645.2 484.4,653.4 484.2,661.6 482.1,669.8 476.2,675.7 466.9,681.5 457.5,686.2 449.3,690.9 447.5,695 450.5,698.5 456.9,701.4"/>
<polyline fill="none" stroke="#00dd00" stroke-width="4" stroke-linejoin="round" stroke-linecap="round" points="192.7,194.1 184.9,207.3 164.4,242.5 157.2,258.1 180,274.7 192.7,294.3 222.2,311.7 189,330.3 163.7,348.8 187.1,360.5 202.7,368.3 232,378.1 261.3,387.8 254.8,408.3 291.7,422.9 318.8,433.3 341.7,444.8 357.3,451 379.2,471.9 400,495.8 420.8,519.8 393.8,543.8 366.9,553.4 336.4,566.3 355.2,585.1 364.5,605 370.4,619.1 385.6,634.3 402,644.8 420.8,656.6 416.1,664.8 380.9,673 397.3,680 418.4,685.9 425.5,691.7 424.3,702.3"/>
<g font-family="Liberation Sans, sans-serif">
<text x="29.1" y="51" font-size="16.8" fill="#000" textLength="26.4" lengthAdjust="spacing">100</text>
<text x="29.1" y="250.9" font-size="16.8" fill="#000" textLength="26.4" lengthAdjust="spacing">200</text>
<text x="29.1" y="367.8" font-size="16.8" fill="#000" textLength="26.4" lengthAdjust="spacing">300</text>
<text x="29.1" y="450.8" font-size="16.8" fill="#000" textLength="26.4" lengthAdjust="spacing">400</text>
<text x="29.1" y="515.1" font-size="16.8" fill="#000" textLength="26.4" lengthAdjust="spacing">500</text>
<text x="29.1" y="567.7" font-size="16.8" fill="#000" textLength="26.4" lengthAdjust="spacing">600</text>
<text x="29.1" y="612.1" font-size="16.8" fill="#000" textLength="26.4" lengthAdjust="spacing">700</text>
<text x="29.1" y="650.7" font-size="16.8" fill="#000" textLength="26.4" lengthAdjust="spacing">800</text>
<text x="29.1" y="684.6" font-size="16.8" fill="#000" textLength="26.4" lengthAdjust="spacing">900</text>
<text x="19.9" y="715" font-size="16.8" fill="#000" textLength="35.6" lengthAdjust="spacing">1000</text>
<text transform="translate(21,447.8) rotate(-90)" font-size="19.5" fill="#000" textLength="76.6" lengthAdjust="spacing">Pressure</text>
<text transform="translate(21,361.3) rotate(-90)" font-size="19.5" fill="#000" textLength="42.2" lengthAdjust="spacing">(mb)</text>
<text transform="translate(649,584.3) rotate(-90)" font-size="18.5" fill="#9a12d6" stroke="#9a12d6" stroke-width="0.2" textLength="52" lengthAdjust="spacingAndGlyphs">Mixing</text>
<text transform="translate(649,523.1) rotate(-90)" font-size="18.5" fill="#9a12d6" stroke="#9a12d6" stroke-width="0.2" textLength="45.5" lengthAdjust="spacingAndGlyphs">Ratio</text>
<text transform="translate(649,464.6) rotate(-90)" font-size="18.5" fill="#9a12d6" stroke="#9a12d6" stroke-width="0.2" textLength="55.9" lengthAdjust="spacingAndGlyphs">(g/kg)</text>
</g>
<path d="M698.3,45V723" stroke="#444" stroke-width="1.3"/>
<path d="M698.3,78.8L665.5,75.4 M665.5,75.4l1.2,-11.7 M670.1,75.9l1.2,-11.7 M674.7,76.3l0.7,-6.5" stroke="#14faa0" stroke-width="1.7" fill="none"/>
<rect x="696.2" y="76.7" width="4.2" height="4.2" fill="#14faa0"/>
<path d="M698.3,112.2L665.9,104.5 M665.9,104.5l2.7,-11.5 M670.4,105.6l2.7,-11.5 M674.9,106.6l2.7,-11.5 M679.3,107.7l2.7,-11.5" stroke="#00ff46" stroke-width="1.7" fill="none"/>
<rect x="696.2" y="110.1" width="4.2" height="4.2" fill="#00ff46"/>
<path d="M698.3,142.3L665.5,135.4 M665.5,135.4l2.4,-11.5 M670,136.3l2.4,-11.5 M674.5,137.3l2.4,-11.5 M679,138.2l2.4,-11.5 M683.5,139.2l1.3,-6.4" stroke="#78ff00" stroke-width="1.7" fill="none"/>
<rect x="696.2" y="140.2" width="4.2" height="4.2" fill="#78ff00"/>
<path d="M698.3,169.8L664.4,162.6" stroke="#80ff00" stroke-width="1.7" fill="none"/>
<path d="M664.4,162.6L668.7,152.9L668.5,163.5Z" fill="#80ff00" stroke="#80ff00" stroke-width="1"/>
<rect x="696.2" y="167.7" width="4.2" height="4.2" fill="#80ff00"/>
<path d="M698.3,194.9L664.6,187.1" stroke="#96ff00" stroke-width="1.7" fill="none"/>
<path d="M664.6,187.1L669.1,177.5L668.7,188Z" fill="#96ff00" stroke="#96ff00" stroke-width="1"/>
<rect x="696.2" y="192.8" width="4.2" height="4.2" fill="#96ff00"/>
<path d="M698.3,217.4L664.6,209.4" stroke="#a5ff00" stroke-width="1.7" fill="none"/>
<path d="M664.6,209.4L669.1,199.8L668.7,210.4Z" fill="#a5ff00" stroke="#a5ff00" stroke-width="1"/>
<rect x="696.2" y="215.3" width="4.2" height="4.2" fill="#a5ff00"/>
<path d="M698.3,237.8L664.8,230.4 M673.1,232.2l1.4,-6.3" stroke="#c3ff00" stroke-width="1.7" fill="none"/>
<path d="M664.8,230.4L669.2,220.7L668.9,231.3Z" fill="#c3ff00" stroke="#c3ff00" stroke-width="1"/>
<rect x="696.2" y="235.7" width="4.2" height="4.2" fill="#c3ff00"/>
<path d="M698.3,258.3L664.5,252.9 M672.9,254.2l1,-6.4" stroke="#d7ff00" stroke-width="1.7" fill="none"/>
<path d="M664.5,252.9L668.3,243L668.6,253.6Z" fill="#d7ff00" stroke="#d7ff00" stroke-width="1"/>
<rect x="696.2" y="256.2" width="4.2" height="4.2" fill="#d7ff00"/>
<path d="M698.3,277.1L663.5,272.3 M671.9,273.5l1.6,-11.7" stroke="#ebff00" stroke-width="1.7" fill="none"/>
<path d="M663.5,272.3L667.1,262.3L667.7,272.9Z" fill="#ebff00" stroke="#ebff00" stroke-width="1"/>
<rect x="696.2" y="275" width="4.2" height="4.2" fill="#ebff00"/>
<path d="M698.3,294.4L663.4,289.8 M671.8,290.9l1.5,-11.7" stroke="#e6ff00" stroke-width="1.7" fill="none"/>
<path d="M663.4,289.8L666.9,279.8L667.6,290.3Z" fill="#e6ff00" stroke="#e6ff00" stroke-width="1"/>
<rect x="696.2" y="292.3" width="4.2" height="4.2" fill="#e6ff00"/>
<path d="M698.3,312L663.6,306.1 M672,307.5l1.1,-6.4" stroke="#c8ff00" stroke-width="1.7" fill="none"/>
<path d="M663.6,306.1L667.5,296.2L667.7,306.8Z" fill="#c8ff00" stroke="#c8ff00" stroke-width="1"/>
<rect x="696.2" y="309.9" width="4.2" height="4.2" fill="#c8ff00"/>
<path d="M698.3,330.5L665.2,325 M665.2,325l1.9,-11.6 M669.7,325.8l1.9,-11.6 M674.3,326.5l1.9,-11.6 M678.8,327.3l1.9,-11.6 M683.4,328l1.1,-6.4" stroke="#80ff00" stroke-width="1.7" fill="none"/>
<rect x="696.2" y="328.4" width="4.2" height="4.2" fill="#80ff00"/>
<path d="M698.3,348.7L665,346 M665,346l1,-11.8 M669.6,346.4l1,-11.8 M674.2,346.7l1,-11.8" stroke="#00ffa0" stroke-width="1.7" fill="none"/>
<rect x="696.2" y="346.6" width="4.2" height="4.2" fill="#00ffa0"/>
<path d="M698.3,368L667.4,379.2 M667.4,379.2l-4,-11.1 M671.7,377.6l-4,-11.1" stroke="#00ffd7" stroke-width="1.7" fill="none"/>
<rect x="696.2" y="365.9" width="4.2" height="4.2" fill="#00ffd7"/>
<path d="M698.3,387.8L671.7,406 M671.7,406l-6.7,-9.7 M675.5,403.4l-6.7,-9.7 M679.3,400.8l-6.7,-9.7" stroke="#00ff8c" stroke-width="1.7" fill="none"/>
<rect x="696.2" y="385.7" width="4.2" height="4.2" fill="#00ff8c"/>
<path d="M698.3,408.7L671.1,426.2 M671.1,426.2l-6.4,-9.9 M675,423.7l-6.4,-9.9 M678.8,421.2l-6.4,-9.9 M682.7,418.7l-3.5,-5.5" stroke="#00fa46" stroke-width="1.7" fill="none"/>
<rect x="696.2" y="406.6" width="4.2" height="4.2" fill="#00fa46"/>
<path d="M698.3,430L671.1,448.3 M671.1,448.3l-6.6,-9.8 M674.9,445.7l-6.6,-9.8 M678.7,443.2l-6.6,-9.8" stroke="#00ff96" stroke-width="1.7" fill="none"/>
<rect x="696.2" y="427.9" width="4.2" height="4.2" fill="#00ff96"/>
<path d="M698.3,451.7L671,470.3 M671,470.3l-6.6,-9.8 M674.8,467.7l-6.6,-9.8 M678.6,465.1l-3.7,-5.4" stroke="#00ffc8" stroke-width="1.7" fill="none"/>
<rect x="696.2" y="449.6" width="4.2" height="4.2" fill="#00ffc8"/>
<path d="M698.3,474L670,490.1 M670,490.1l-5.8,-10.3 M674,487.8l-5.8,-10.3 M678,485.6l-5.8,-10.3" stroke="#00ffa0" stroke-width="1.7" fill="none"/>
<rect x="696.2" y="471.9" width="4.2" height="4.2" fill="#00ffa0"/>
<path d="M698.3,496.7L669.9,513.2 M669.9,513.2l-5.9,-10.2 M673.9,510.9l-5.9,-10.2 M677.9,508.6l-5.9,-10.2 M681.8,506.3l-3.3,-5.6" stroke="#00ff8c" stroke-width="1.7" fill="none"/>
<rect x="696.2" y="494.6" width="4.2" height="4.2" fill="#00ff8c"/>
<path d="M698.3,519.9L670,537.2 M670,537.2l-6.2,-10.1 M673.9,534.8l-6.2,-10.1 M677.8,532.4l-6.2,-10.1 M681.8,530l-3.4,-5.5" stroke="#00ff8c" stroke-width="1.7" fill="none"/>
<rect x="696.2" y="517.8" width="4.2" height="4.2" fill="#00ff8c"/>
<path d="M698.3,544L673.8,565.4 M673.8,565.4l-7.8,-8.9 M677.3,562.4l-7.8,-8.9 M680.7,559.3l-7.8,-8.9" stroke="#00ff87" stroke-width="1.7" fill="none"/>
<rect x="696.2" y="541.9" width="4.2" height="4.2" fill="#00ff87"/>
<path d="M698.3,566.8L680.4,593.7 M680.4,593.7l-9.8,-6.5 M682.9,589.9l-9.8,-6.5 M685.5,586l-9.8,-6.5" stroke="#00ff87" stroke-width="1.7" fill="none"/>
<rect x="696.2" y="564.7" width="4.2" height="4.2" fill="#00ff87"/>
<path d="M698.3,586.6L691.6,618.3 M691.6,618.3l-11.5,-2.4 M692.6,613.8l-11.5,-2.4" stroke="#00ffd2" stroke-width="1.7" fill="none"/>
<rect x="696.2" y="584.5" width="4.2" height="4.2" fill="#00ffd2"/>
<path d="M698.3,604.2L692.8,635.2 M692.8,635.2l-11.6,-2 M693.6,630.7l-11.6,-2" stroke="#00ffd2" stroke-width="1.7" fill="none"/>
<rect x="696.2" y="602.1" width="4.2" height="4.2" fill="#00ffd2"/>
<path d="M698.3,619.9L689.6,650.2 M689.6,650.2l-11.3,-3.3 M690.9,645.8l-11.3,-3.3" stroke="#00ffd2" stroke-width="1.7" fill="none"/>
<rect x="696.2" y="617.8" width="4.2" height="4.2" fill="#00ffd2"/>
<path d="M698.3,633.6L687.8,663.3 M687.8,663.3l-11.1,-3.9 M689.4,659l-11.1,-3.9" stroke="#00ffcd" stroke-width="1.7" fill="none"/>
<rect x="696.2" y="631.5" width="4.2" height="4.2" fill="#00ffcd"/>
<path d="M698.3,645.3L688,675.1 M688,675.1l-11.2,-3.8 M689.5,670.7l-11.2,-3.8" stroke="#00ffc8" stroke-width="1.7" fill="none"/>
<rect x="696.2" y="643.2" width="4.2" height="4.2" fill="#00ffc8"/>
<path d="M698.3,655.9L688.6,685.9 M688.6,685.9l-11.2,-3.6 M690,681.5l-11.2,-3.6" stroke="#00ffbe" stroke-width="1.7" fill="none"/>
<rect x="696.2" y="653.8" width="4.2" height="4.2" fill="#00ffbe"/>
<path d="M698.3,665.3L690.1,695.7 M690.1,695.7l-11.4,-3.1 M691.3,691.3l-11.4,-3.1" stroke="#00ffa0" stroke-width="1.7" fill="none"/>
<rect x="696.2" y="663.2" width="4.2" height="4.2" fill="#00ffa0"/>
<path d="M698.3,673.1L691.8,703.9 M691.8,703.9l-11.5,-2.5 M692.7,699.4l-11.5,-2.5" stroke="#00ff8c" stroke-width="1.7" fill="none"/>
<rect x="696.2" y="671" width="4.2" height="4.2" fill="#00ff8c"/>
<path d="M698.3,680.3L693.4,711.4 M693.4,711.4l-11.7,-1.8 M694.1,706.9l-11.7,-1.8" stroke="#00ff7d" stroke-width="1.7" fill="none"/>
<rect x="696.2" y="678.2" width="4.2" height="4.2" fill="#00ff7d"/>
<path d="M698.3,686L695,717.3 M695,717.3l-11.7,-1.2 M695.5,712.8l-11.7,-1.2" stroke="#00ff78" stroke-width="1.7" fill="none"/>
<rect x="696.2" y="683.9" width="4.2" height="4.2" fill="#00ff78"/>
<path d="M698.3,691L696.7,722.5 M696.7,722.5l-11.8,-0.6 M696.9,717.9l-11.8,-0.6" stroke="#00ff78" stroke-width="1.7" fill="none"/>
<rect x="696.2" y="688.9" width="4.2" height="4.2" fill="#00ff78"/>
<path d="M698.3,695L698.3,726.5 M698.3,726.5l-11.8,0 M698.3,721.9l-11.8,0" stroke="#00ff7d" stroke-width="1.7" fill="none"/>
<rect x="696.2" y="692.9" width="4.2" height="4.2" fill="#00ff7d"/>
<path d="M698.3,697.5L703,730.7 M703,730.7l-11.7,1.6 M702.3,726.1l-11.7,1.6" stroke="#00f5aa" stroke-width="1.7" fill="none"/>
<rect x="696.2" y="695.4" width="4.2" height="4.2" fill="#00f5aa"/>
<path d="M698.3,699.5L708.7,731.4 M708.7,731.4l-11.2,3.6 M707.2,727l-11.2,3.6" stroke="#00ebf5" stroke-width="1.7" fill="none"/>
<rect x="696.2" y="697.4" width="4.2" height="4.2" fill="#00ebf5"/>
<path d="M698.3,701L712.5,731.4 M712.5,731.4l-10.7,5 M710.5,727.2l-10.7,5" stroke="#00e8ff" stroke-width="1.7" fill="none"/>
<rect x="696.2" y="698.9" width="4.2" height="4.2" fill="#00e8ff"/>
<path d="M698.3,702.5L715,731.5 M715,731.5l-10.2,5.9 M712.8,727.5l-10.2,5.9" stroke="#00e8ff" stroke-width="1.7" fill="none"/>
<rect x="696.2" y="700.4" width="4.2" height="4.2" fill="#00e8ff"/>
<path d="M698.3,704L716.5,732.1 M716.5,732.1l-9.9,6.4 M714,728.2l-9.9,6.4" stroke="#00e8ff" stroke-width="1.7" fill="none"/>
<rect x="696.2" y="701.9" width="4.2" height="4.2" fill="#00e8ff"/>
<defs><clipPath id="hc"><rect x="745" y="45" width="186" height="181"/></clipPath></defs>
<g clip-path="url(#hc)" fill="none" stroke="#000" stroke-width="1.2">
<ellipse cx="838" cy="135.5" rx="31.1" ry="30"/>
<ellipse cx="838" cy="135.5" rx="62.2" ry="60"/>
<ellipse cx="838" cy="135.5" rx="93.3" ry="90"/>
<path d="M745,135.5H931M838,45V226"/>
<path d="M744.7,133.2v4.6 M835.7,45.5h4.6 M755,133.2v4.6 M835.7,55.5h4.6 M765.4,133.2v4.6 M835.7,65.5h4.6 M775.8,133.2v4.6 M835.7,75.5h4.6 M786.1,133.2v4.6 M835.7,85.5h4.6 M796.5,133.2v4.6 M835.7,95.5h4.6 M806.9,133.2v4.6 M835.7,105.5h4.6 M817.3,133.2v4.6 M835.7,115.5h4.6 M827.6,133.2v4.6 M835.7,125.5h4.6 M848.4,133.2v4.6 M835.7,145.5h4.6 M858.7,133.2v4.6 M835.7,155.5h4.6 M869.1,133.2v4.6 M835.7,165.5h4.6 M879.5,133.2v4.6 M835.7,175.5h4.6 M889.9,133.2v4.6 M835.7,185.5h4.6 M900.2,133.2v4.6 M835.7,195.5h4.6 M910.6,133.2v4.6 M835.7,205.5h4.6 M921,133.2v4.6 M835.7,215.5h4.6 M931.3,133.2v4.6 M835.7,225.5h4.6"/>
</g>
<rect x="745" y="45" width="186" height="181" fill="none" stroke="#000" stroke-width="2"/>
<polyline fill="none" stroke="#11cc11" stroke-width="2.4" stroke-linejoin="round" points="824,115.9 821.7,112.4 818.7,108.3 817,101.9 818.7,90.1 822.3,81.9 826.4,72.6 832.8,66.7 843.3,67.3 851,76.1 853.9,85.5 853.3,92.5 849.2,95.4 845.1,95.4 846.9,92.5 848,90.7"/>
<circle cx="824" cy="115.9" r="2.3" fill="#11cc11"/><circle cx="848" cy="90.7" r="2.3" fill="#11cc11"/>
<path d="M838,135.5L868,125.3" stroke="#ff4444" stroke-width="1.4"/>
<path d="M876,122.6L866.5,121.6L869.8,130Z" fill="#ff4444"/>
<g font-family="Liberation Sans, sans-serif" fill="#222">
<text transform="translate(816.3,155.8) rotate(-47)" font-size="13.5" fill="#222" text-anchor="middle" x="0" y="4.8">15</text>
<text transform="translate(793.8,178) rotate(-47)" font-size="13.5" fill="#222" text-anchor="middle" x="0" y="4.8">30</text>
<text transform="translate(773,198.8) rotate(-47)" font-size="13.5" fill="#222" text-anchor="middle" x="0" y="4.8">45</text>
</g>
<path d="M768,271H926.4V673H768ZM768,329.5H926.4M768,456.4H926.4M768,582.5H926.4" fill="none" stroke="#000" stroke-width="1.25"/>
<path d="M744,711.5H931.5" stroke="#222" stroke-width="1.5"/>
<g font-family="Liberation Sans, sans-serif">
<text x="118.5" y="16" font-size="20.5" fill="#000" textLength="139.3" lengthAdjust="spacing" stroke="#fff" stroke-width="0.12">2025101214</text>
<text x="269.9" y="16" font-size="20.5" fill="#000" textLength="59" lengthAdjust="spacing" stroke="#fff" stroke-width="0.12">HRRR</text>
<text x="341.4" y="16" font-size="20.5" fill="#000" textLength="56.9" lengthAdjust="spacing" stroke="#fff" stroke-width="0.12">BUFR</text>
<text x="412.1" y="16" font-size="20.5" fill="#000" textLength="98.8" lengthAdjust="spacing" stroke="#fff" stroke-width="0.12">Sounding</text>
<text x="525" y="16" font-size="20.5" fill="#000" textLength="28.2" lengthAdjust="spacing" stroke="#fff" stroke-width="0.12">for</text>
<text x="565.9" y="16" font-size="20.5" fill="#000" textLength="60.5" lengthAdjust="spacing" stroke="#fff" stroke-width="0.12">KDSM</text>
<text x="165.9" y="39" font-size="20.5" fill="#000" textLength="25.7" lengthAdjust="spacing" stroke="#fff" stroke-width="0.12">1h</text>
<text x="205.5" y="39" font-size="20.5" fill="#000" textLength="87.8" lengthAdjust="spacing" stroke="#fff" stroke-width="0.12">forecast</text>
<text x="307.6" y="39" font-size="20.5" fill="#000" textLength="47.1" lengthAdjust="spacing" stroke="#fff" stroke-width="0.12">valid</text>
<text x="368.1" y="39" font-size="20.5" fill="#000" textLength="138.4" lengthAdjust="spacing" stroke="#fff" stroke-width="0.12">2025101215</text>
<text x="520.6" y="39" font-size="20.5" fill="#000" textLength="58.8" lengthAdjust="spacing" stroke="#fff" stroke-width="0.12">(Sun)</text>
<text x="113.7" y="743.5" font-size="21.3" fill="#4466ff" textLength="26.4" lengthAdjust="spacingAndGlyphs" stroke="#fff" stroke-width="0.12">30</text>
<text x="181.1" y="743.5" font-size="21.3" fill="#4466ff" textLength="25.9" lengthAdjust="spacingAndGlyphs" stroke="#fff" stroke-width="0.12">20</text>
<text x="249.9" y="743.5" font-size="21.3" fill="#4466ff" textLength="25.2" lengthAdjust="spacingAndGlyphs" stroke="#fff" stroke-width="0.12">10</text>
<text x="314.6" y="743.5" font-size="21.3" fill="#4466ff" stroke="#fff" stroke-width="0.12">0</text>
<text x="374.6" y="743.5" font-size="21.3" fill="#4466ff" textLength="25.9" lengthAdjust="spacingAndGlyphs" stroke="#fff" stroke-width="0.12">10</text>
<text x="442" y="743.5" font-size="21.3" fill="#4466ff" textLength="26.2" lengthAdjust="spacingAndGlyphs" stroke="#fff" stroke-width="0.12">20</text>
<text x="509.2" y="743.5" font-size="21.3" fill="#4466ff" textLength="26.7" lengthAdjust="spacingAndGlyphs" stroke="#fff" stroke-width="0.12">30</text>
<text x="577.8" y="743.5" font-size="21.3" fill="#4466ff" textLength="25.5" lengthAdjust="spacingAndGlyphs" stroke="#fff" stroke-width="0.12">40</text>
<text x="246.3" y="760" font-size="17.4" fill="#2244ff" textLength="159.7" lengthAdjust="spacing" stroke="#2244ff" stroke-width="0.35">Temperature (°C)</text>
<text x="555.8" y="760.1" font-size="16.2" fill="#ff4444" textLength="188.7" lengthAdjust="spacing" >coolwx.com/modelts</text>
<text x="339.4" y="440" font-size="12.5" fill="#a020d8" >1</text>
<text x="393.5" y="440" font-size="12.5" fill="#a020d8" >2</text>
<text x="425.9" y="440" font-size="12.5" fill="#a020d8" >3</text>
<text x="450.6" y="440" font-size="12.5" fill="#a020d8" >4</text>
<text x="485.4" y="440" font-size="12.5" fill="#a020d8" >6</text>
<text x="511.3" y="440" font-size="12.5" fill="#a020d8" >8</text>
<text x="532" y="440" font-size="12.5" fill="#a020d8" textLength="16.2" lengthAdjust="spacingAndGlyphs" >10</text>
<text x="570.7" y="440" font-size="12.5" fill="#a020d8" textLength="16.4" lengthAdjust="spacingAndGlyphs" >15</text>
<text x="599.1" y="440" font-size="12.5" fill="#a020d8" textLength="16.5" lengthAdjust="spacingAndGlyphs" >20</text>
<text x="611.5" y="502.1" font-size="12.5" fill="#a020d8" textLength="16.5" lengthAdjust="spacingAndGlyphs" >25</text>
<text x="611.5" y="562" font-size="12.5" fill="#a020d8" textLength="16.5" lengthAdjust="spacingAndGlyphs" >30</text>
<text x="611.5" y="616" font-size="12.5" fill="#a020d8" textLength="16.5" lengthAdjust="spacingAndGlyphs" >35</text>
<text x="612.5" y="665.4" font-size="12.5" fill="#a020d8" textLength="15.5" lengthAdjust="spacingAndGlyphs" >40</text>
<text x="749" y="58.9" font-size="13.5" fill="#222" textLength="39.3" lengthAdjust="spacing" >knots</text>
<text x="772.5" y="289.1" font-size="13.8" fill="#1a1a1a" >K</text>
<text x="870.2" y="289.1" font-size="13.8" fill="#1a1a1a" textLength="18.5" lengthAdjust="spacing" >18</text>
<text x="773.3" y="306.9" font-size="13.8" fill="#1a1a1a" textLength="13.3" lengthAdjust="spacingAndGlyphs" >TT</text>
<text x="871.2" y="306.9" font-size="13.8" fill="#1a1a1a" textLength="17.5" lengthAdjust="spacing" >40</text>
<text x="772.3" y="320.9" font-size="13.8" fill="#1a1a1a" textLength="64.5" lengthAdjust="spacing" >PW (cm)</text>
<text x="870.2" y="320.9" font-size="13.8" fill="#1a1a1a" textLength="31.9" lengthAdjust="spacing" >2.54</text>
<text x="772.3" y="370.4" font-size="13.8" fill="#1a1a1a" textLength="84.7" lengthAdjust="spacing" >Press (mb)</text>
<text x="870.2" y="370.4" font-size="13.8" fill="#1a1a1a" textLength="41.4" lengthAdjust="spacing" >976.9</text>
<text x="773.3" y="384.4" font-size="13.8" fill="#1a1a1a" textLength="74.6" lengthAdjust="spacing" >Temp (°C)</text>
<text x="870.2" y="384.4" font-size="13.8" fill="#1a1a1a" textLength="31.9" lengthAdjust="spacing" >17.4</text>
<text x="772.3" y="398.3" font-size="13.8" fill="#1a1a1a" textLength="74.9" lengthAdjust="spacing" >Dewp (°C)</text>
<text x="870.2" y="398.3" font-size="13.8" fill="#1a1a1a" textLength="31.4" lengthAdjust="spacing" >12.5</text>
<text x="773.3" y="411.8" font-size="13.8" fill="#1a1a1a" textLength="42.5" lengthAdjust="spacing" ><tspan font-weight="bold" font-style="italic" font-family="Liberation Serif, serif">θ</tspan><tspan font-size="7.5" dy="1.5">E</tspan><tspan dy="-1.5"> (K)</tspan></text>
<text x="870.2" y="411.8" font-size="13.8" fill="#1a1a1a" textLength="40.2" lengthAdjust="spacing" >319.1</text>
<text x="772.3" y="425" font-size="13.8" fill="#1a1a1a" textLength="49.7" lengthAdjust="spacing" >LI (°C)</text>
<text x="870.2" y="425" font-size="13.8" fill="#1a1a1a" textLength="21.6" lengthAdjust="spacing" >9.1</text>
<text x="772.3" y="439" font-size="13.8" fill="#1a1a1a" textLength="92.1" lengthAdjust="spacing" >CAPE (Jkg<tspan font-size="8.5" dy="-4.5">−1</tspan><tspan dy="4.5">)</tspan></text>
<text x="871" y="439" font-size="13.8" fill="#1a1a1a" >2</text>
<text x="772.3" y="452.5" font-size="13.8" fill="#1a1a1a" textLength="78.9" lengthAdjust="spacing" >CIN (Jkg<tspan font-size="8.5" dy="-4.5">−1</tspan><tspan dy="4.5">)</tspan></text>
<text x="871.5" y="452.5" font-size="13.8" fill="#1a1a1a" >0</text>
<text x="772.3" y="498" font-size="13.8" fill="#1a1a1a" textLength="84.7" lengthAdjust="spacing" >Press (mb)</text>
<text x="870.2" y="498" font-size="13.8" fill="#1a1a1a" textLength="41.6" lengthAdjust="spacing" >832.8</text>
<text x="773.3" y="511.4" font-size="13.8" fill="#1a1a1a" textLength="75.4" lengthAdjust="spacing" >Temp (°C)</text>
<text x="870.2" y="511.4" font-size="13.8" fill="#1a1a1a" textLength="32" lengthAdjust="spacing" >17.4</text>
<text x="772.3" y="524.9" font-size="13.8" fill="#1a1a1a" textLength="75.4" lengthAdjust="spacing" >Dewp (°C)</text>
<text x="870.2" y="524.9" font-size="13.8" fill="#1a1a1a" textLength="32" lengthAdjust="spacing" >12.5</text>
<text x="773.3" y="537.5" font-size="13.8" fill="#1a1a1a" textLength="42.5" lengthAdjust="spacing" ><tspan font-weight="bold" font-style="italic" font-family="Liberation Serif, serif">θ</tspan><tspan font-size="7.5" dy="1.5">E</tspan><tspan dy="-1.5"> (K)</tspan></text>
<text x="870.2" y="537.5" font-size="13.8" fill="#1a1a1a" textLength="41.6" lengthAdjust="spacing" >328.0</text>
<text x="772.3" y="551.9" font-size="13.8" fill="#1a1a1a" textLength="50.1" lengthAdjust="spacing" >LI (°C)</text>
<text x="871.2" y="551.9" font-size="13.8" fill="#1a1a1a" textLength="22.4" lengthAdjust="spacing" >4.4</text>
<text x="772.3" y="565.4" font-size="13.8" fill="#1a1a1a" textLength="91.9" lengthAdjust="spacing" >CAPE (Jkg<tspan font-size="8.5" dy="-4.5">−1</tspan><tspan dy="4.5">)</tspan></text>
<text x="871.8" y="565.4" font-size="13.8" fill="#1a1a1a" >0</text>
<text x="772.3" y="578.9" font-size="13.8" fill="#1a1a1a" textLength="78.6" lengthAdjust="spacing" >CIN (Jkg<tspan font-size="8.5" dy="-4.5">−1</tspan><tspan dy="4.5">)</tspan></text>
<text x="871.8" y="578.9" font-size="13.8" fill="#1a1a1a" >0</text>
<text x="772.3" y="614.8" font-size="13.8" fill="#1a1a1a" textLength="74.4" lengthAdjust="spacing" >EH (Jkg<tspan font-size="8.5" dy="-4.5">−1</tspan><tspan dy="4.5">)</tspan></text>
<text x="870.2" y="614.8" font-size="13.8" fill="#1a1a1a" textLength="28.6" lengthAdjust="spacing" >178</text>
<text x="772.3" y="628.3" font-size="13.8" fill="#1a1a1a" textLength="93.1" lengthAdjust="spacing" >SREH (Jkg<tspan font-size="8.5" dy="-4.5">−1</tspan><tspan dy="4.5">)</tspan></text>
<text x="870.2" y="628.3" font-size="13.8" fill="#1a1a1a" textLength="27.6" lengthAdjust="spacing" >185</text>
<text x="772.3" y="650.8" font-size="13.8" fill="#1a1a1a" textLength="76.8" lengthAdjust="spacing" >StmDir (°)</text>
<text x="870.2" y="650.8" font-size="13.8" fill="#1a1a1a" textLength="27.1" lengthAdjust="spacing" >251</text>
<text x="772.3" y="664.3" font-size="13.8" fill="#1a1a1a" textLength="90.4" lengthAdjust="spacing" >StmSpd (kt)</text>
<text x="870.2" y="664.3" font-size="13.8" fill="#1a1a1a" textLength="19.1" lengthAdjust="spacing" >19</text>
<text x="795.1" y="348.3" font-size="13.8" fill="#1a1a1a" textLength="90.3" lengthAdjust="spacing" >Lowest level</text>
<text x="791.4" y="474.6" font-size="13.8" fill="#1a1a1a" textLength="104.3" lengthAdjust="spacing" >Most Unstable</text>
<text x="804.5" y="596.8" font-size="13.8" fill="#1a1a1a" textLength="78.7" lengthAdjust="spacing" >Hodograph</text>
<text x="750.4" y="706.3" font-size="16" fill="#222" textLength="173.9" lengthAdjust="spacing" >NCEP 1−Hr PType:</text>
<text x="815.6" y="728.6" font-size="16" fill="#222" textLength="43.8" lengthAdjust="spacing" >None</text>
<text x="805.8" y="750.1" font-size="13.9" fill="#222" textLength="64" lengthAdjust="spacing" >(0" L.E.)</text>
<path d="M97.3,737.4H110M164.8,737.4H177.8M232,737.4H245" stroke="#4466ff" stroke-width="1.4"/>
</g>
</svg>
</body></html>
